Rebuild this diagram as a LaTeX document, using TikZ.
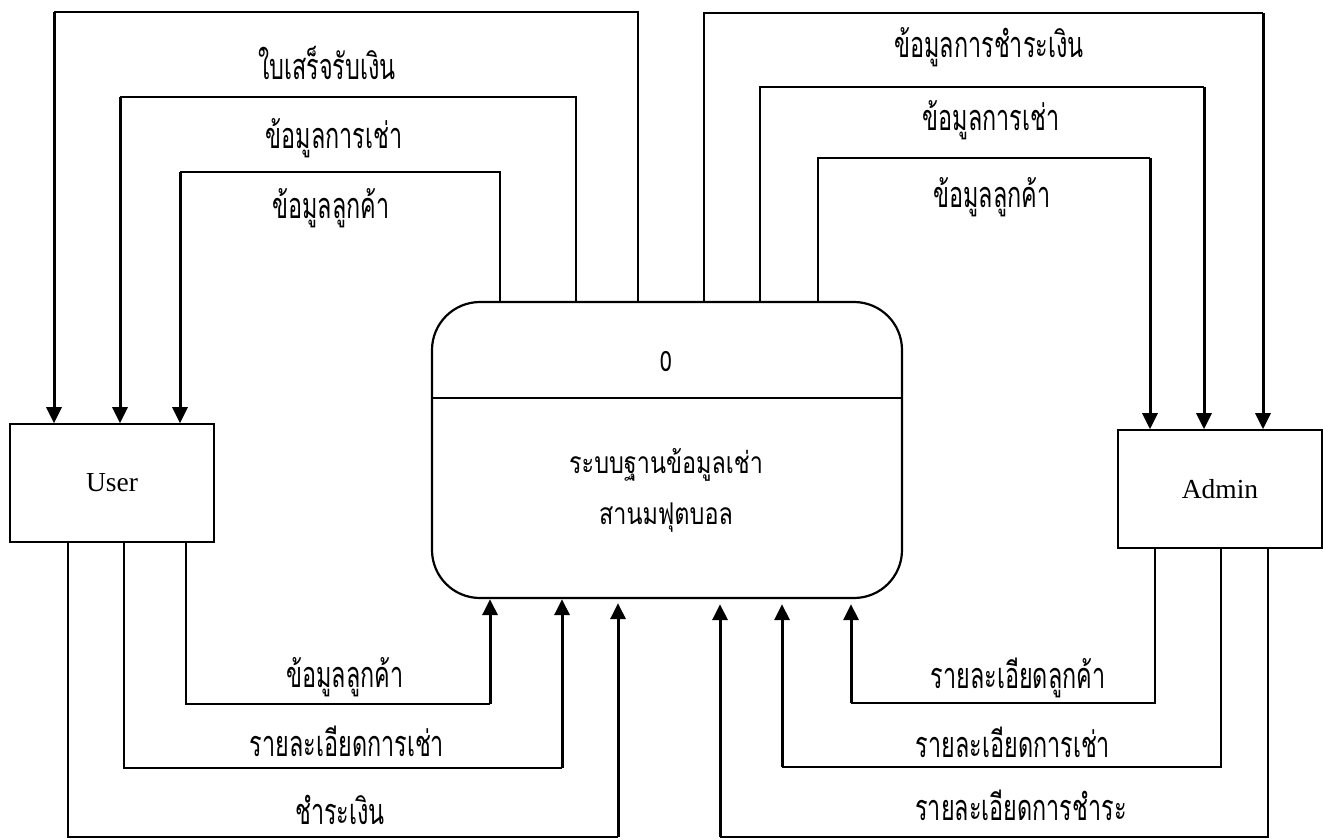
\documentclass[tikz,border=0pt]{standalone}
\usepackage{fontspec}
\usetikzlibrary{arrows.meta}
\newfontfamily\thaifont[Script=Thai,FakeStretch=0.65]{Loma}
\newfontfamily\thaiproc[Script=Thai,FakeStretch=0.78]{Loma}
\newfontfamily\romanfont{Liberation Serif}
\begin{document}
\begin{tikzpicture}[x=1pt,y=-1pt,
  entity/.style={draw,line width=1.6pt,minimum width=204pt,minimum height=118pt,inner sep=0pt,
                 font=\romanfont\fontsize{27.5}{30}\selectfont},
  process/.style={draw,line width=2.2pt,rounded corners=48pt,minimum width=470pt,minimum height=296pt,inner sep=0pt},
  flowline/.style={line width=1.2pt},
  flowarrow/.style={line width=3pt,-{Triangle[length=16pt,width=15pt]}},
  lbl/.style={inner sep=0pt,font=\thaifont\fontsize{36}{38}\selectfont},
  ptext/.style={inner sep=0pt,font=\thaiproc\fontsize{30}{32}\selectfont}]
\useasboundingbox (0,0) rectangle (1323,839);

% external entities and the central process
\node[entity] (U) at (112,483) {User};
\node[entity] (A) at (1220,489) {Admin};
\node[process] (P) at (667,450) {};
\draw[line width=1.2pt] (P.west |- 0,398) -- (P.east |- 0,398);
\node[inner sep=0pt,font=\thaiproc\fontsize{28}{30}\selectfont] (pid) at (666,362) {0};
\node[ptext] (pname1) at (666,465) {ระบบฐานข้อมูลเช่า};
\node[ptext] (pname2) at (666,518) {สานมฟุตบอล};

% corner points of the flows
\coordinate (k1) at (54,12);
\coordinate (k2) at (120,97);
\coordinate (k3) at (180,172);
\coordinate (k4) at (1263,13);
\coordinate (k5) at (1204,87);
\coordinate (k6) at (1150,158);
\coordinate (k7) at (490,704);
\coordinate (k8) at (562,768);
\coordinate (k9) at (618,837);
\coordinate (k10) at (851,703);
\coordinate (k11) at (782,767);
\coordinate (k12) at (720,837);

% process -> User
\draw[flowline] (P.north -| 638,0) |- (k1);
\draw[flowarrow] (k1) -- (U.north -| k1);
\draw[flowline] (P.north -| 576,0) |- (k2);
\draw[flowarrow] (k2) -- (U.north -| k2);
\draw[flowline] (P.north -| 500,0) |- (k3);
\draw[flowarrow] (k3) -- (U.north -| k3);

% process -> Admin
\draw[flowline] (P.north -| 704,0) |- (k4);
\draw[flowarrow] (k4) -- (A.north -| k4);
\draw[flowline] (P.north -| 760,0) |- (k5);
\draw[flowarrow] (k5) -- (A.north -| k5);
\draw[flowline] (P.north -| 818,0) |- (k6);
\draw[flowarrow] (k6) -- (A.north -| k6);

% User -> process
\draw[flowline] (U.south -| 186,0) |- (k7);
\draw[flowarrow] (k7) -- (P.south -| k7);
\draw[flowline] (U.south -| 124,0) |- (k8);
\draw[flowarrow] (k8) -- (P.south -| k8);
\draw[flowline] (U.south -| 68,0) |- (k9);
\draw[flowarrow] (k9) -- ([yshift=-4pt]P.south -| k9);

% Admin -> process
\draw[flowline] (A.south -| 1155,0) |- (k10);
\draw[flowarrow] (k10) -- ([yshift=-5pt]P.south -| k10);
\draw[flowline] (A.south -| 1221,0) |- (k11);
\draw[flowarrow] (k11) -- ([yshift=-5pt]P.south -| k11);
\draw[flowline] (A.south -| 1268,0) |- (k12);
\draw[flowarrow] (k12) -- ([yshift=-5pt]P.south -| k12);

% flow labels
\node[lbl] (l1) at (327,63) {ใบเสร็จรับเงิน};
\node[lbl] (l2) at (334,138) {ข้อมูลการเช่า};
\node[lbl] (l3) at (331,208) {ข้อมูลลูกค้า};
\node[lbl] (l4) at (989,47) {ข้อมูลการชำระเงิน};
\node[lbl] (l5) at (991,120) {ข้อมูลการเช่า};
\node[lbl] (l6) at (992,197) {ข้อมูลลูกค้า};
\node[lbl] (l7) at (345,677) {ข้อมูลลูกค้า};
\node[lbl] (l8) at (347,741) {รายละเอียดการเช่า};
\node[lbl] (l9) at (340,810) {ชำระเงิน};
\node[lbl] (l10) at (1018,678) {รายละเอียดลูกค้า};
\node[lbl] (l11) at (1013,742) {รายละเอียดการเช่า};
\node[lbl] (l12) at (1021,805) {รายละเอียดการชำระ};
\end{tikzpicture}
\end{document}
